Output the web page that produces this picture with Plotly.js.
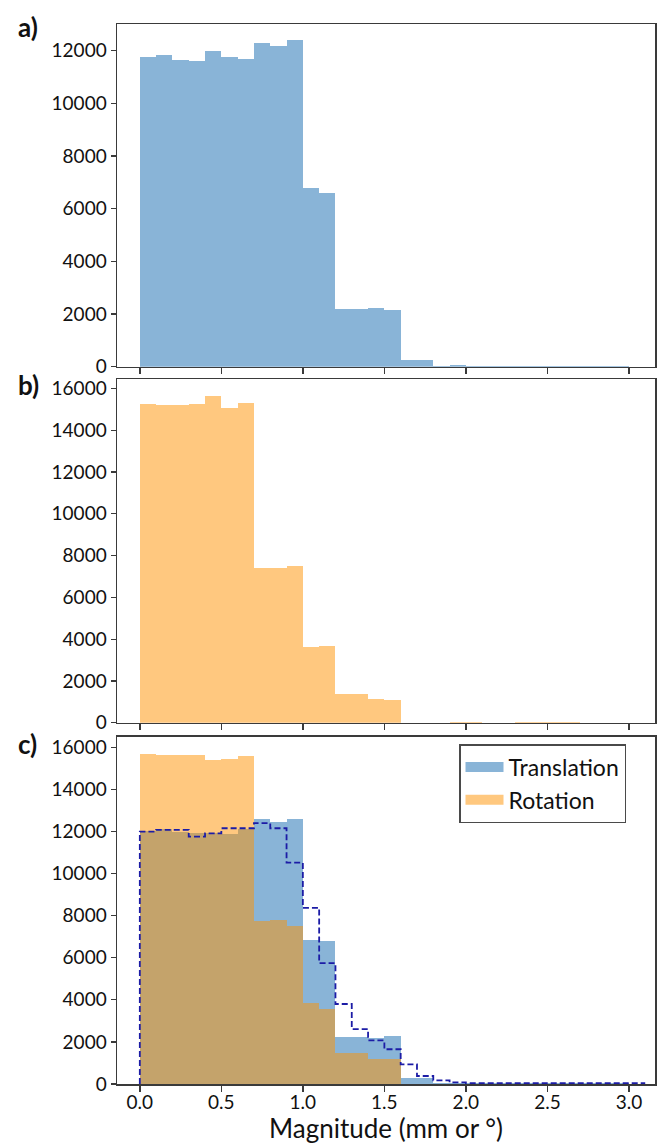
<!DOCTYPE html>
<html>
<head>
<meta charset="utf-8">
<script src="https://cdn.plot.ly/plotly-3.0.1.min.js"></script>
<style>html,body{margin:0;padding:0;background:#fff;}#chart{width:662px;height:1144px;}</style>
</head>
<body>
<div id="chart"></div>
<script>
// Bin edges (mm or degrees)
var binEdges = [0.0,0.1,0.2,0.3,0.4,0.5,0.6,0.7,0.8,0.9,1.0,1.1,1.2,1.3,1.4,1.5,1.6,1.7,1.8,1.9,2.0,2.1,2.2,2.3,2.4,2.5,2.6,2.7,2.8,2.9,3.0,3.1];

// Panel a: translation counts per bin (0.0 - 3.0)
var transA = [11750,11850,11650,11620,11975,11770,11680,12290,12190,12390,
              6790,6600,2200,2190,2240,2165,255,265,45,55,
              40,40,45,45,40,40,40,35,35,35];

// Panel b: rotation counts per bin (0.0 - 3.0)
var rotB = [15270,15220,15220,15270,15660,15080,15300,7400,7400,7480,
            3640,3670,1370,1370,1115,1085,0,0,0,40,
            10,0,0,10,10,35,10,0,0,0];

// Panel c: translation counts per bin
var transC = [12020,12100,11990,11910,11910,11880,12100,12580,12440,12580,
              6860,6780,2220,2230,2200,2300,285,285,35,35,
              30,30,30,30,30,30,30,30,30,30];

// Panel c: rotation counts per bin
var rotC = [15700,15640,15640,15640,15370,15450,15590,7760,7790,7520,
            3830,3580,1470,1470,1190,1200,0,0,0,0,
            0,0,0,0,0,0,0,0,0,0];

// Panel c: dashed reference step curve per bin (0.0 - 3.1)
var dashC = [11990,12070,12070,11750,11910,12150,12150,12390,12150,10520,
             8370,5740,3800,2610,2075,1650,935,380,175,80,
             45,45,45,45,45,45,45,45,45,45,45];

var xTickVals = [0,0.5,1,1.5,2,2.5,3];
var xTickText = ['0.0','0.5','1.0','1.5','2.0','2.5','3.0'];
var yTicksA = [0,2000,4000,6000,8000,10000,12000];
var yTicksBC = [0,2000,4000,6000,8000,10000,12000,14000,16000];

var legendNames = ['Translation','Rotation'];
var panelLabels = ['a)','b)','c)'];
var xTitle = 'Magnitude (mm or °)';

function centers(n){ var c=[]; for(var i=0;i<n;i++){ c.push((binEdges[i]+binEdges[i+1])/2); } return c; }

var BLUE = 'rgba(19,105,175,0.5)';
var ORANGE = 'rgba(255,145,0,0.5)';
var BLUE_SOLID = 'rgb(137,180,215)';
var ORANGE_SOLID = 'rgb(255,200,127)';
var FONT = 'Lato, "Open Sans", sans-serif';

var dashX = [binEdges[0]], dashY = [0];
for (var i=0;i<dashC.length;i++){ dashX.push(binEdges[i]); dashY.push(dashC[i]); }
dashX.push(binEdges[dashC.length]); dashY.push(dashC[dashC.length-1]);

var traces = [
  {type:'bar', x:centers(transA.length), y:transA, width:0.1, marker:{color:BLUE, line:{width:0}}, xaxis:'x', yaxis:'y', showlegend:false, name:legendNames[0]},
  {type:'bar', x:centers(rotB.length), y:rotB, width:0.1, marker:{color:ORANGE, line:{width:0}}, xaxis:'x2', yaxis:'y2', showlegend:false, name:legendNames[1]},
  {type:'bar', x:centers(transC.length), y:transC, width:0.1, marker:{color:BLUE, line:{width:0}}, xaxis:'x3', yaxis:'y3', showlegend:false, name:legendNames[0]},
  {type:'bar', x:centers(rotC.length), y:rotC, width:0.1, marker:{color:ORANGE, line:{width:0}}, xaxis:'x3', yaxis:'y3', showlegend:false, name:legendNames[1]},
  {type:'scatter', mode:'lines', x:dashX, y:dashY, line:{shape:'hv', color:'#1c1ca6', width:1.8, dash:'6px,3px'}, xaxis:'x3', yaxis:'y3', showlegend:false, hoverinfo:'skip'},
  // legend entries (wide swatches)
  {type:'scatter', mode:'lines', x:[null], y:[null], line:{color:BLUE_SOLID, width:13}, xaxis:'x3', yaxis:'y3', showlegend:true, name:legendNames[0]},
  {type:'scatter', mode:'lines', x:[null], y:[null], line:{color:ORANGE_SOLID, width:13}, xaxis:'x3', yaxis:'y3', showlegend:true, name:legendNames[1]}
];

var H = 1060, T = 24;
function dom(top, bottom){ return [(T+H-bottom)/H, (T+H-top)/H]; }

var axCommon = {showline:true, mirror:true, linecolor:'#3a3a3a', linewidth:1.5, ticks:'outside', tickcolor:'#3a3a3a', zeroline:false, showgrid:false};
function xax(anchor, labels){
  return Object.assign({}, axCommon, {anchor:anchor, range:[-0.14,3.16], tickvals:xTickVals, ticktext:xTickText, ticklen:6, tickwidth:1.5, showticklabels:labels, tickfont:{family:FONT, size:19, color:'#111'}});
}
function yax(anchor, domain, range, vals){
  return Object.assign({}, axCommon, {anchor:anchor, domain:domain, range:range, tickvals:vals, tickformat:'d', ticklen:5, tickwidth:1.2, tickfont:{family:FONT, size:19, color:'#111'}});
}

var xa3 = xax('y3', true);
xa3.ticklabelstandoff = -5;
xa3.title = {text:xTitle, font:{family:FONT, size:26, color:'#111'}, standoff:4};

var layout = {
  width:662, height:1144,
  margin:{l:117, r:7, t:T, b:60},
  paper_bgcolor:'#fff', plot_bgcolor:'#fff',
  barmode:'overlay', bargap:0,
  font:{family:FONT, color:'#111'},
  xaxis: xax('y', false),
  xaxis2: xax('y2', false),
  xaxis3: xa3,
  yaxis: yax('x', dom(24.3,366.7), [0,13000], yTicksA),
  yaxis2: yax('x2', dom(379,722.7), [0,16450], yTicksBC),
  yaxis3: yax('x3', dom(736.7,1084), [0,16500], yTicksBC),
  legend:{x:(459-117)/538, y:(T+H-744)/H, xanchor:'left', yanchor:'top', bordercolor:'#4a4a4a', borderwidth:1.5, bgcolor:'#fff', font:{family:FONT, size:23, color:'#111'}, itemwidth:38, tracegroupgap:0},
  annotations: [
    {text:'<b>'+panelLabels[0]+'</b>', xref:'paper', yref:'paper', x:(16-117)/538, y:(T+H-27)/H, xanchor:'left', yanchor:'middle', showarrow:false, font:{family:FONT, size:26, color:'#111'}},
    {text:'<b>'+panelLabels[1]+'</b>', xref:'paper', yref:'paper', x:(16-117)/538, y:(T+H-385)/H, xanchor:'left', yanchor:'middle', showarrow:false, font:{family:FONT, size:26, color:'#111'}},
    {text:'<b>'+panelLabels[2]+'</b>', xref:'paper', yref:'paper', x:(16-117)/538, y:(T+H-744)/H, xanchor:'left', yanchor:'middle', showarrow:false, font:{family:FONT, size:26, color:'#111'}}
  ]
};

Plotly.newPlot('chart', traces, layout, {displayModeBar:false, staticPlot:true});
</script>
</body>
</html>
